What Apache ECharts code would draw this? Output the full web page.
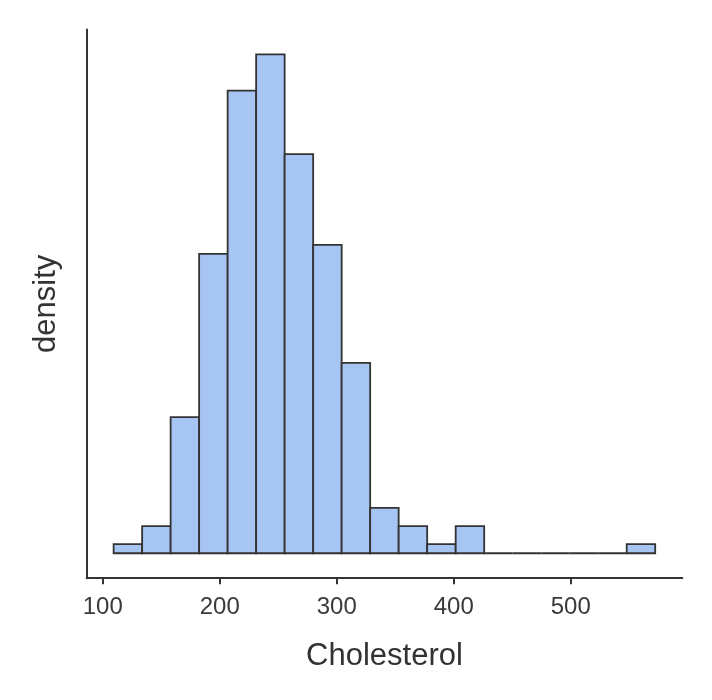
<!DOCTYPE html>
<html>
<head>
<meta charset="utf-8">
<script src="https://cdn.jsdelivr.net/npm/echarts@6/dist/echarts.min.js"></script>
<style>
  html, body { margin: 0; padding: 0; background: #fff; }
  #chart { width: 712px; height: 700px; }
</style>
</head>
<body>
<div id="chart"></div>
<script>
// bin edges (Cholesterol) and counts per bin
var binEdges = [109.3, 133.66, 158.02, 182.38, 206.74, 231.1, 255.46, 279.82, 304.18, 328.54,
                352.9, 377.26, 401.62, 425.98, 450.34, 474.7, 499.06, 523.42, 547.78, 572.14];
var binCounts = [1, 3, 15, 33, 51, 55, 44, 34, 21, 5, 3, 1, 3, 0, 0, 0, 0, 0, 1];
var xTicks = [100, 200, 300, 400, 500];

var chart = echarts.init(document.getElementById('chart'));

// build [left, right, count] for each bin
var bins = [];
for (let i = 0; i < binCounts.length; i++) {
    bins.push([binEdges[i], binEdges[i + 1], binCounts[i]]);
}

var textColor = '#333333';
var font = 'Liberation Sans';

var option = {
    animation: false,
    grid: { left: 86.6, right: 29.7, top: 29.5, bottom: 121.8 },
    xAxis: {
        type: 'value',
        min: 86.2,
        max: 595.3,
        name: 'Cholesterol',
        nameLocation: 'middle',
        nameGap: 63,
        nameTextStyle: { fontFamily: font, fontSize: 31, color: textColor },
        axisLine: { show: true, onZero: false, lineStyle: { color: '#333333', width: 2 } },
        axisTick: { show: true, length: 6, lineStyle: { color: '#333333', width: 2 }, customValues: xTicks },
        axisLabel: { fontFamily: font, fontSize: 24, color: '#3a3a3a', margin: 17, customValues: xTicks },
        splitLine: { show: false }
    },
    yAxis: {
        type: 'value',
        min: -2.75,
        max: 57.75,
        name: 'density',
        nameLocation: 'middle',
        nameGap: 25,
        nameTextStyle: { fontFamily: font, fontSize: 31, color: textColor },
        axisLine: { show: true, onZero: false, lineStyle: { color: '#333333', width: 2 } },
        axisTick: { show: false },
        axisLabel: { show: false },
        splitLine: { show: false }
    },
    series: [{
        type: 'custom',
        data: bins,
        encode: { x: [0, 1], y: 2 },
        renderItem: function (params, api) {
            let p0 = api.coord([api.value(0), 0]);
            let p1 = api.coord([api.value(1), api.value(2)]);
            return {
                type: 'rect',
                shape: { x: p0[0], y: p1[1], width: p1[0] - p0[0], height: p0[1] - p1[1] },
                style: { fill: '#a6c5f2', stroke: '#333333', lineWidth: 1.8 }
            };
        }
    }]
};
chart.setOption(option);
</script>
</body>
</html>
